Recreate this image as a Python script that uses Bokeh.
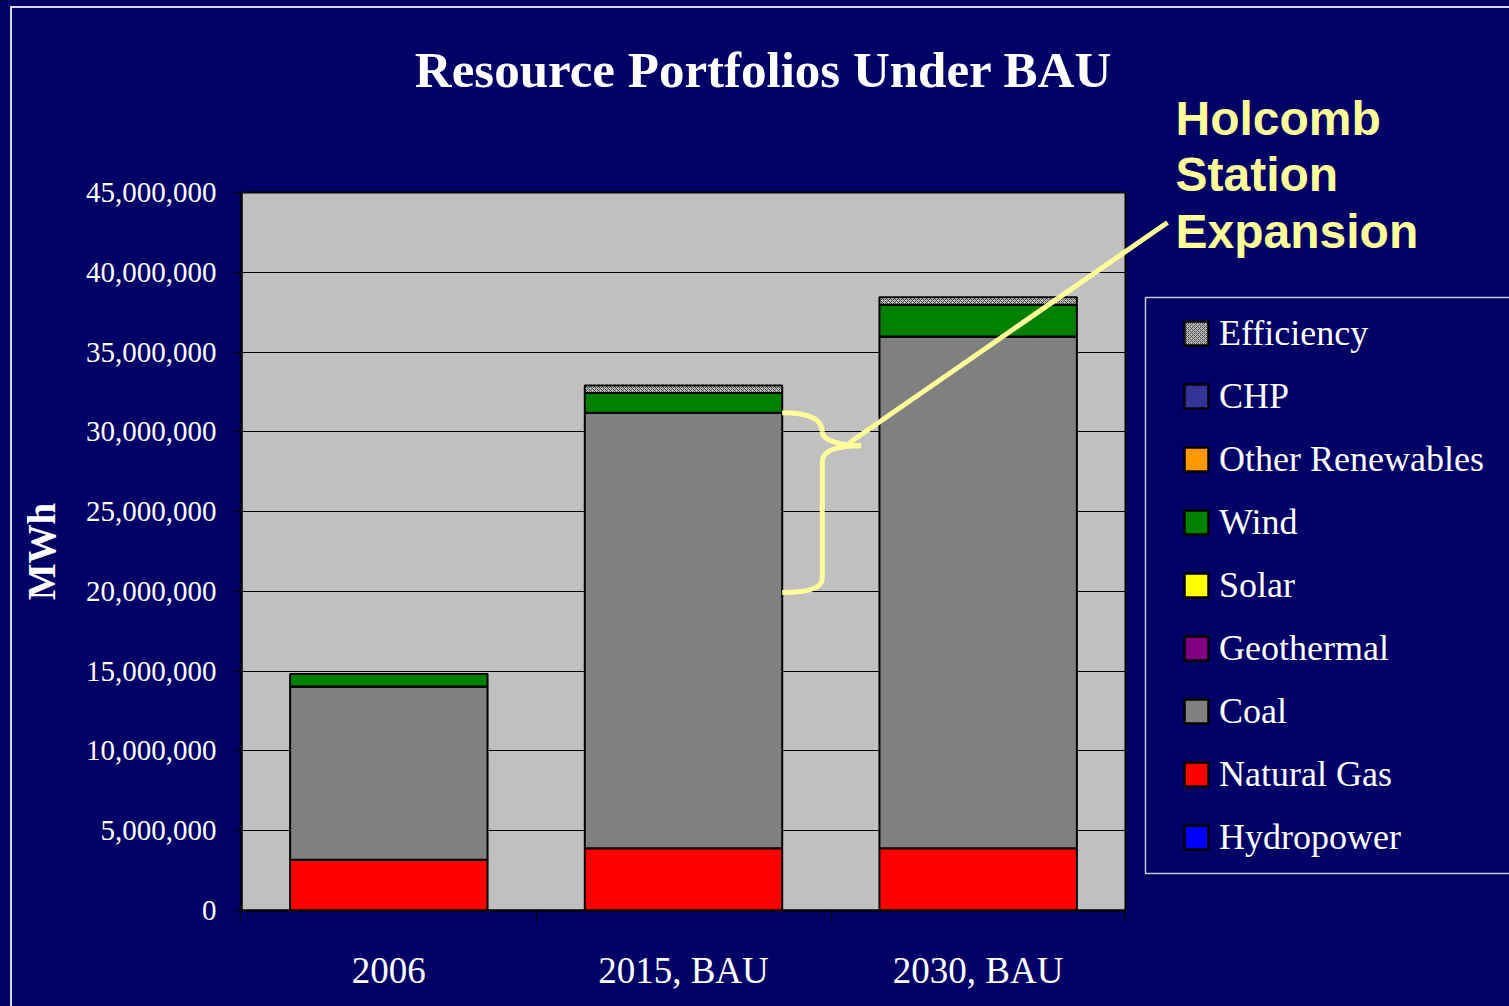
from bokeh.plotting import figure
from bokeh.models import (FixedTicker, NumeralTickFormatter, Legend, LegendItem,
                          Label, ColumnDataSource, Range1d)
from bokeh.embed import file_html
from bokeh.resources import INLINE

# ---------------- data ----------------
CATEGORIES = ["2006", "2015, BAU", "2030, BAU"]
SERIES = ["Hydropower", "Natural Gas", "Coal", "Geothermal", "Solar",
          "Wind", "Other Renewables", "CHP", "Efficiency"]
hydropower = [0, 0, 0]
natural_gas = [3_180_000, 3_900_000, 3_900_000]
coal = [10_860_000, 27_300_000, 32_070_000]
geothermal = [0, 0, 0]
solar = [0, 0, 0]
wind = [790_000, 1_230_000, 1_990_000]
other_renewables = [0, 0, 0]
chp = [0, 0, 0]
efficiency = [0, 480_000, 480_000]
SERIES_COLORS = ["#0000FF", "#FF0000", "#808080", "#800080", "#FFFF00",
                 "#008000", "#FF9900", "#333399", "#B8B8B8"]
Y_TICKS = [0, 5_000_000, 10_000_000, 15_000_000, 20_000_000, 25_000_000,
           30_000_000, 35_000_000, 40_000_000, 45_000_000]
Y_MAX = 45_000_000
HOLCOMB_BOTTOM = 20_000_000          # lower end of the Holcomb expansion brace
POINTER_END = (3.1425, 43_120_000)   # where the pointer line meets the note
TITLE = "Resource Portfolios Under BAU"
NOTE = ["Holcomb", "Station", "Expansion"]

NAVY = "#000066"
YELLOW = "#FFFF99"
BAR_W = 0.67

# page geometry of the plot frame
W, H = 1509, 1006
FL, FR, FT, FB = 241, 1125, 192, 910


def to_px(xd, yd):
    return (FL + xd * (FR - FL) / len(CATEGORIES), FB - yd * (FB - FT) / Y_MAX)


xs = [i + 0.5 for i in range(len(CATEGORIES))]
src = ColumnDataSource(dict(
    x=xs, Hydropower=hydropower, **{"Natural Gas": natural_gas}, Coal=coal,
    Geothermal=geothermal, Solar=solar, Wind=wind,
    **{"Other Renewables": other_renewables}, CHP=chp, Efficiency=efficiency))

# ---------------- main chart ----------------
p = figure(width=W, height=H, output_backend="svg", toolbar_location=None,
           x_range=Range1d(0, len(CATEGORIES)), y_range=Range1d(0, Y_MAX),
           min_border_left=FL, min_border_right=W - FR, min_border_top=FT,
           min_border_bottom=H - FB)
p.border_fill_color = NAVY
p.background_fill_color = "#C0C0C0"
p.outline_line_color = "black"
p.outline_line_width = 2

renderers = p.vbar_stack(SERIES, x="x", width=BAR_W, source=src,
                         fill_color=SERIES_COLORS, line_color="black", line_width=2)


def hatch(r):
    r.glyph.hatch_pattern = "x"
    r.glyph.hatch_color = "#505050"
    r.glyph.hatch_scale = 4
    r.glyph.hatch_weight = 1


hatch(renderers[-1])

# axes
p.yaxis.ticker = FixedTicker(ticks=Y_TICKS)
p.yaxis.formatter = NumeralTickFormatter(format="0,0")
p.yaxis.major_label_text_font = "Liberation Serif"
p.yaxis.major_label_text_font_size = "29px"
p.yaxis.major_label_text_color = "white"
p.yaxis.major_label_standoff = 17
p.yaxis.major_tick_out = 8
p.yaxis.major_tick_in = 0
p.yaxis.minor_tick_out = 0
p.yaxis.minor_tick_in = 0
p.yaxis.axis_line_color = "black"
p.yaxis.axis_line_width = 2
p.yaxis.major_tick_line_color = "black"
p.yaxis.axis_label = "MWh"
p.yaxis.axis_label_text_font = "Liberation Serif"
p.yaxis.axis_label_text_font_style = "bold"
p.yaxis.axis_label_text_font_size = "39px"
p.yaxis.axis_label_text_color = "white"
p.yaxis.axis_label_standoff = 20

p.xaxis.ticker = FixedTicker(ticks=xs, minor_ticks=list(range(len(CATEGORIES) + 1)))
p.xaxis.major_label_overrides = {x: c for x, c in zip(xs, CATEGORIES)}
p.xaxis.major_label_text_font = "Liberation Serif"
p.xaxis.major_label_text_font_size = "37px"
p.xaxis.major_label_text_color = "white"
p.xaxis.major_tick_out = 0
p.xaxis.major_tick_in = 0
p.xaxis.minor_tick_out = 12
p.xaxis.minor_tick_in = 0
p.xaxis.minor_tick_line_color = "black"
p.xaxis.axis_line_color = "black"
p.xaxis.axis_line_width = 2
p.xaxis.major_label_standoff = 27

p.xgrid.visible = False
p.ygrid.ticker = FixedTicker(ticks=Y_TICKS)
p.ygrid.grid_line_color = "black"
p.ygrid.grid_line_width = 1

# brace beside the 2015 coal block
top = natural_gas[1] + coal[1]
bot = HOLCOMB_BOTTOM
xe = xs[1] + BAR_W / 2            # right edge of 2015 bar
xm = xe + 0.136                   # brace spine
xt = xe + 0.268                   # brace tip
ym = top - 2.07e6                 # tip height
p.bezier(x0=[xe, xm, xt, xm], y0=[top, top - 1.19e6, ym, bot + 0.81e6],
         x1=[xm, xt, xm, xe], y1=[top - 1.19e6, ym, ym - 1.0e6, bot - 0.07e6],
         cx0=[xe + 0.109, xm, xt - 0.075, xm], cy0=[top, top - 1.82e6, ym, bot + 0.06e6],
         cx1=[xm, xm + 0.078, xm, xe + 0.058], cy1=[top - 0.57e6, ym, ym - 0.25e6, bot - 0.07e6],
         line_color=YELLOW, line_width=5)
p.segment(x0=[xm], y0=[ym - 1.0e6], x1=[xm], y1=[bot + 0.81e6],
          line_color=YELLOW, line_width=5)
ptr_start = (xt - 0.04, ym + 0.19e6)

# ---------------- transparent overlay: title, note, pointer, legend ----------------
q = figure(width=W, height=H, output_backend="svg", toolbar_location=None,
           x_range=Range1d(0, W), y_range=Range1d(H, 0),
           x_axis_location=None, y_axis_location=None, min_border=0)
q.grid.visible = False
q.outline_line_color = None
q.border_fill_alpha = 0
q.background_fill_alpha = 0
q.styles = {"position": "absolute", "left": "0px", "top": "0px"}

(sx0, sy0), (sx1, sy1) = to_px(*ptr_start), to_px(*POINTER_END)
q.segment(x0=[sx0], y0=[sy0], x1=[sx1], y1=[sy1], line_color=YELLOW, line_width=5)

q.add_layout(Label(x=763, y=69, text=TITLE, text_align="center",
                   text_baseline="alphabetic", text_color="white",
                   text_font="Liberation Serif", text_font_style="bold",
                   text_font_size="51px"))

for line, base in zip(NOTE, [118, 174, 231]):
    q.add_layout(Label(x=1175, y=base, text=line, text_align="left",
                       text_baseline="alphabetic", text_color=YELLOW,
                       text_font="Liberation Sans", text_font_style="bold",
                       text_font_size="48px"))

# legend frame
q.quad(left=[1145], right=[W + 20], top=[297], bottom=[873], fill_color=NAVY,
       line_color="#C8C8D8", line_width=1.5)

swatches = []
for name, col in zip(SERIES, SERIES_COLORS):
    r = q.vbar(x=[-500], top=[-500], bottom=[-600], width=1, fill_color=col,
               line_color="black", line_width=2.5)
    if name == "Efficiency":
        hatch(r)
    swatches.append(r)

items = [LegendItem(label=n, renderers=[r]) for n, r in zip(SERIES, swatches)][::-1]
legend = Legend(items=items, location=(1171, 138), orientation="vertical",
                background_fill_alpha=0, border_line_alpha=0,
                label_text_color="white", label_text_font="Liberation Serif",
                label_text_font_size="36px", glyph_width=30, glyph_height=30,
                label_standoff=8, label_height=40, label_width=200,
                spacing=21, padding=10, margin=0)
q.add_layout(legend)

html = file_html([p, q], INLINE, title=TITLE)
style = ("<style>html,body{background:#000066;margin:0;padding:0;overflow:hidden;}"
         "body::before{content:'';position:fixed;left:10px;top:6px;width:3000px;"
         "height:3000px;border:2px solid #D8D8E8;pointer-events:none;z-index:10;}</style>")
html = html.replace("</head>", style + "</head>", 1)
open("out.html", "w").write(html)
